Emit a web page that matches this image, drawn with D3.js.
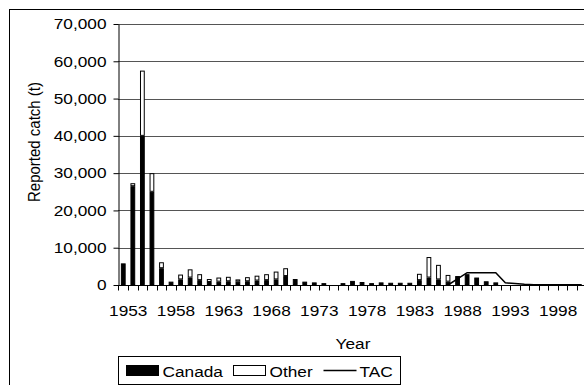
<!DOCTYPE html>
<meta charset="utf-8">
<style>
body { margin: 0; background: #fff; }
text { font-family: "Liberation Sans", Arial, sans-serif; font-size: 15px; fill: #000; }
</style>
<body>
<svg id="chart" width="584" height="385"></svg>
<script src="https://cdn.jsdelivr.net/npm/d3@7"></script>
<script>

var years = [1953, 1954, 1955, 1956, 1957, 1958, 1959, 1960, 1961, 1962,
  1963, 1964, 1965, 1966, 1967, 1968, 1969, 1970, 1971, 1972,
  1973, 1974, 1975, 1976, 1977, 1978, 1979, 1980, 1981, 1982,
  1983, 1984, 1985, 1986, 1987, 1988, 1989, 1990, 1991, 1992,
  1993, 1994, 1995, 1996, 1997, 1998, 1999, 2000, 2001];

var canada = [5800, 26500, 40000, 25000, 4500, 900, 1500, 2000, 1300, 800,
  900, 1000, 900, 1000, 1200, 1300, 1500, 2400, 1600, 900,
  700, 500, 200, 500, 1100, 800, 500, 700, 600, 600,
  600, 1300, 2000, 1500, 900, 2400, 2900, 2000, 1000, 700,
  200, 250, 100, 200, 100, 200, 100, 200, 100];

var other = [0, 800, 17500, 5000, 1600, 200, 1300, 2200, 1600, 800,
  1100, 1200, 600, 1100, 1300, 1600, 2100, 2100, 0, 0,
  0, 0, 0, 0, 0, 0, 0, 0, 0, 0,
  0, 1700, 5500, 3900, 1800, 0, 0, 0, 0, 0,
  0, 0, 0, 0, 0, 0, 0, 0, 0];

var tac = [null, null, null, null, null, null, null, null, null, null,
  null, null, null, null, null, null, null, null, null, null,
  null, null, null, null, null, null, null, null, null, null,
  null, null, null, null, 0, 1650, 3300, 3300, 3300, 3300,
  600, 400, 200, 100, 100, 100, 100, 100, 100];

var yTicks = [0, 10000, 20000, 30000, 40000, 50000, 60000, 70000];
var xLabels = [1953, 1958, 1963, 1968, 1973, 1978, 1983, 1988, 1993, 1998];

var rows = years.map((y, i) => ({year: y, Canada: canada[i], Other: other[i], TAC: tac[i]}));

var sx = 1.15; // text in the picture is stretched sideways

var svg = d3.select("#chart");

// outer chart frame (runs off the picture to the right and bottom)
svg.append("rect")
    .attr("x", 9.5).attr("y", 9.5)
    .attr("width", 620).attr("height", 420)
    .attr("fill", "#fff").attr("stroke", "#000");

var x = d3.scaleBand()
    .domain(years)
    .range([118.5, 586.5])
    .paddingInner(0.5)
    .paddingOuter(0.25);

var step = x.step();

var y = d3.scaleLinear()
    .domain([0, 70000])
    .range([285, 24]);

// gridlines
svg.append("g")
  .selectAll("line")
  .data(yTicks.slice(1))
  .enter().append("line")
    .attr("x1", 118).attr("x2", 600)
    .attr("y1", d => Math.round(y(d)) + 0.5)
    .attr("y2", d => Math.round(y(d)) + 0.5)
    .attr("stroke", "#555");

// stacked bars
var series = d3.stack().keys(["Canada", "Other"])(rows);
var fills = {Canada: "#000", Other: "#fff"};

svg.append("g")
  .selectAll("g")
  .data(series)
  .enter().append("g")
    .attr("fill", d => fills[d.key])
    .attr("stroke", "#000")
  .selectAll("rect")
  .data(d => d.filter(v => v[1] > v[0]))
  .enter().append("rect")
    .attr("x", d => x(d.data.year) + 0.5)
    .attr("y", d => y(d[1]) + 0.5)
    .attr("width", x.bandwidth() - 1)
    .attr("height", d => Math.max(0, y(d[0]) - y(d[1]) - 1));

// TAC line
var line = d3.line()
    .defined(d => d.TAC != null)
    .x(d => x(d.year) + x.bandwidth() / 2)
    .y(d => y(d.TAC));

svg.append("path")
    .datum(rows)
    .attr("fill", "none")
    .attr("stroke", "#000")
    .attr("stroke-width", 1.5)
    .attr("d", line);

// y axis
var yAxis = svg.append("g")
    .attr("transform", "translate(118.5,0)")
    .call(d3.axisLeft(y).tickValues(yTicks).tickSize(5).tickSizeOuter(0).tickFormat(d3.format(",")));
yAxis.select(".domain").attr("stroke", "#000");
yAxis.selectAll("text")
    .attr("font-size", 15)
    .attr("font-family", null)
    .attr("x", -12 / sx)
    .attr("transform", "scale(" + sx + ",1)");

// x axis: a tick between every category, labels every five years
var bounds = x.domain().map(d => x(d) - (step - x.bandwidth()) / 2).concat([x.range()[1]]);
var xa = svg.append("g").attr("transform", "translate(0,285.5)");
xa.append("line")
    .attr("x1", 118).attr("x2", 600)
    .attr("stroke", "#000");
xa.selectAll(".tk")
  .data(bounds)
  .enter().append("line")
    .attr("class", "tk")
    .attr("x1", d => Math.round(d) + 0.5).attr("x2", d => Math.round(d) + 0.5)
    .attr("y1", 0).attr("y2", 5)
    .attr("stroke", "#000");
xa.selectAll(".lab")
  .data(xLabels)
  .enter().append("text")
    .attr("class", "lab")
    .attr("text-anchor", "middle")
    .attr("transform", d => "translate(" + (x(d) + x.bandwidth() / 2 + 5) + ",30) scale(" + sx + ",1)")
    .text(d => d);

// axis titles
svg.append("text")
    .attr("text-anchor", "middle")
    .attr("transform", "translate(353,349) scale(" + sx + ",1)")
    .text("Year");

svg.append("text")
    .attr("text-anchor", "middle")
    .attr("font-size", 14)
    .attr("transform", "translate(39.5,142) scale(" + sx + ",1) rotate(-90)")
    .text("Reported catch (t)");

// legend
var lg = svg.append("g").attr("transform", "translate(118.5,356.5)");
lg.append("rect")
    .attr("width", 282).attr("height", 28)
    .attr("fill", "#fff").attr("stroke", "#000");

var legendItems = ["Canada", "Other", "TAC"];
var legendX = [8, 115, 205];
var item = lg.selectAll(".item")
  .data(legendItems)
  .enter().append("g")
    .attr("class", "item")
    .attr("transform", (d, i) => "translate(" + legendX[i] + ",0)");

item.filter(d => d != "TAC").append("rect")
    .attr("y", 9).attr("width", 32).attr("height", 10)
    .attr("fill", d => fills[d]).attr("stroke", "#000");
item.filter(d => d == "TAC").append("line")
    .attr("x1", 0).attr("x2", 33)
    .attr("y1", 14).attr("y2", 14)
    .attr("stroke", "#000").attr("stroke-width", 1.5);
item.append("text")
    .attr("transform", d => "translate(" + (d == "TAC" ? 36 : 36) + ",20) scale(" + sx + ",1)")
    .attr("font-size", 15)
    .text(d => d);

</script>
